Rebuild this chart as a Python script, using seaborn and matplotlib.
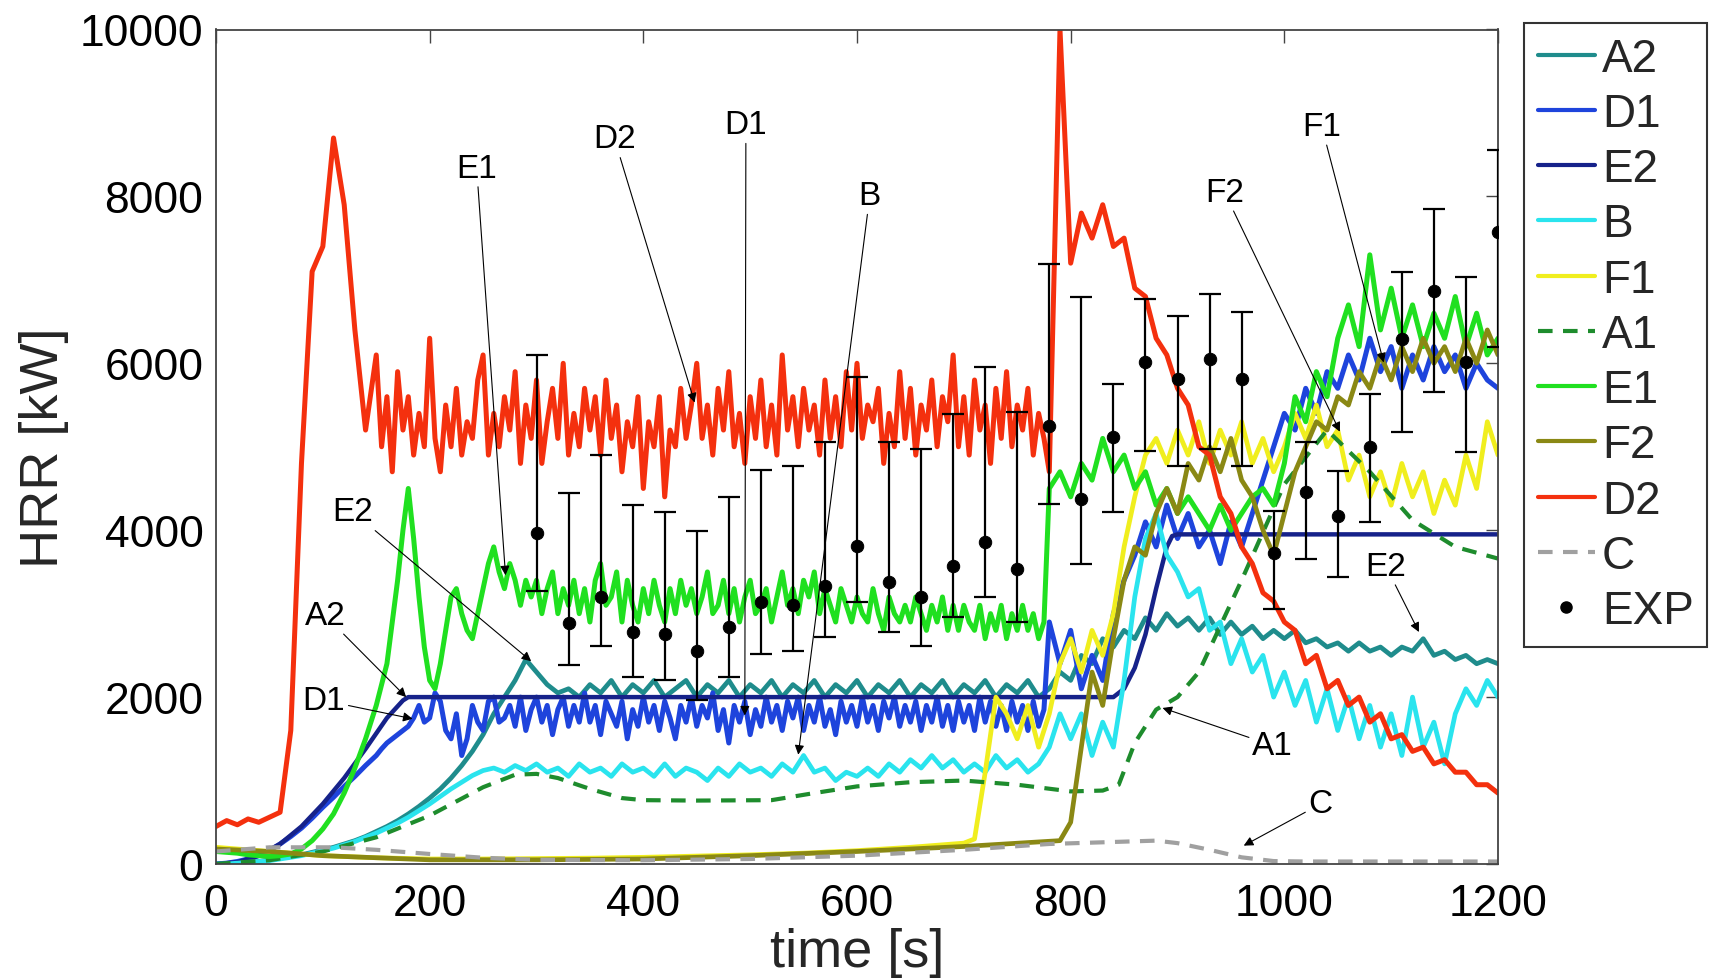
import matplotlib
matplotlib.use("Agg")
import matplotlib.pyplot as plt
import seaborn as sns
from matplotlib.lines import Line2D

# ---------------- data ----------------
T10 = list(range(0, 1201, 10))
# finer sampling on the noisy plateau of the dense series
TG = list(range(0, 141, 10)) + list(range(150, 781, 5)) + list(range(790, 1201, 10))

D2 = [450, 520, 470, 540, 500, 560, 620, 1600, 4800, 7100, 7400, 8700, 7900, 6400, 5200,
      6100, 5000, 5600, 4700, 5900, 5200, 5600, 4900, 5400, 5000,
      6300, 5100, 4700, 5500, 5000, 5700, 4900, 5300, 5100, 5800,
      6100, 4900, 5400, 5000, 5600, 5200, 5900, 4800, 5500, 5100,
      5800, 4800, 5300, 5700, 5100, 6000, 4900, 5400, 5000, 5700,
      5200, 5600, 4900, 5800, 5100, 5500, 4700, 5300, 5000, 5600,
      4500, 5300, 5000, 5600, 4400, 5200, 5000, 5700, 5100, 5500,
      6000, 5100, 5500, 4900, 5700, 5200, 5900, 5000, 5400, 4800,
      5600, 5100, 5800, 5000, 5500, 4900, 6100, 5200, 5600, 5000,
      5700, 5200, 5500, 4900, 5800, 5100, 5600, 5000, 5900, 5200,
      6000, 5100, 5500, 5300, 5700, 4800, 5400, 5000, 5900, 5100,
      5700, 4900, 5500, 5200, 5800, 5000, 5600, 5300, 6100, 5000,
      5600, 4900, 5800, 5200, 5500, 4800, 5700, 5100, 5900, 5000,
      5500, 5200, 5700, 4900, 5400, 5100, 4700,
      10000, 7200, 7800, 7500, 7900, 7400, 7500, 6900, 6800, 6300,
      6100, 5700, 5500, 5000, 4900, 4400, 4200, 3800, 3600, 3250,
      3150, 2900, 2800, 2400, 2500, 2100, 2200, 1900, 2000, 1700,
      1800, 1500, 1550, 1350, 1400, 1200, 1250, 1100, 1100, 950,
      950, 850]

E1 = [150, 140, 130, 110, 100, 90, 100, 120, 180, 280, 420, 600, 850, 1150, 1500,
      1900, 2150, 2400, 2900, 3400, 4000, 4500, 3900, 3200, 2600,
      2200, 2100, 2400, 2800, 3200, 3300, 3000, 2800, 2700, 3000,
      3300, 3600, 3800, 3500, 3300, 3600, 3400, 3100, 3400, 3200,
      3400, 3000, 3300, 3500, 3000, 3300, 3100, 3400, 3000, 3300,
      2900, 3400, 3600, 3100, 3200, 3500, 2900, 3400, 3100, 2900,
      3300, 3000, 3400, 3100, 2900, 3300, 3000, 3400, 3100, 3300,
      3000, 3200, 3500, 3000, 3100, 3400, 3000, 3300, 2900, 3200,
      3400, 3000, 3100, 3300, 2900, 3200, 3500, 3100, 3300, 3000,
      3400, 3200, 3500, 3000, 3300, 3100, 2900, 3300, 3100, 2900,
      3200, 3000, 2900, 3300, 3000, 2800, 3200, 3000, 2900, 3100,
      2900, 3200, 3000, 2800, 3100, 2900, 3200, 2800, 3100, 2800,
      3100, 2900, 2800, 3100, 2700, 3000, 2800, 3100, 2700, 3000,
      2800, 3100, 2800, 3000, 2700, 2900, 4500,
      4700, 4400, 4800, 4600, 5100, 4700, 4900, 4500, 4700, 4300,
      4500, 4200, 4400, 4200, 4000, 4300, 4000, 4200, 4400, 4500,
      4300, 4800, 5600, 5300, 5900, 5600, 6300, 6700, 6200, 7300,
      6400, 6900, 6300, 6700, 6200, 6600, 6300, 6800, 6200, 6600,
      6100, 6300]

D1 = [0, 10, 30, 60, 100, 160, 240, 330, 430, 550, 680, 800, 930, 1050, 1180,
      1300, 1380, 1450, 1500, 1550, 1600, 1650, 1750, 1900, 1700,
      1750, 2050, 1950, 1600, 1500, 1800, 1300, 1500, 1900, 1700,
      1600, 1950, 2000, 1700, 1750, 1900, 1650, 2000, 1600, 1850,
      2000, 1700, 1900, 1550, 1850, 2000, 1650, 1900, 1700, 2050,
      1700, 1900, 1550, 1950, 1800, 1650, 1950, 1500, 1850, 1650,
      2000, 1700, 1900, 1600, 1950, 1750, 1500, 1900, 1700, 2000,
      1650, 1900, 1750, 2050, 1600, 1850, 1450, 1900, 1700, 1950,
      1550, 1850, 1650, 2000, 1700, 1900, 1600, 1950, 1750, 2000,
      1600, 1900, 1700, 2000, 1650, 1850, 1550, 1950, 1700, 1900,
      1650, 2000, 1700, 1900, 1600, 1950, 1750, 2000, 1650, 1900,
      1700, 1950, 1600, 1900, 1700, 2000, 1650, 1900, 1600, 1950,
      1700, 1900, 1600, 2000, 1700, 1950, 1650, 1900, 1600, 1950,
      1700, 1900, 1600, 1950, 1650, 1850, 2900,
      2400, 2800, 2100, 2500, 2200, 3000, 3400, 3700, 4100, 3800,
      4300, 3900, 4200, 3800, 4000, 3600, 4100, 3800, 4200, 4600,
      5000, 5400, 5200, 5700, 5400, 5900, 5700, 6100, 5800, 6300,
      5900, 6200, 5700, 6100, 5800, 6200, 5900, 6100, 5700, 6000,
      5800, 5700]

A2 = [0, 0, 10, 20, 30, 50, 70,
      90, 110, 140, 170, 200, 240, 280, 330, 390, 450,
      520, 600, 690, 790, 900, 1030, 1180, 1350, 1550, 1800,
      2000, 2200, 2450, 2300, 2150, 2050, 2100, 2000, 2150, 2050,
      2200, 2000, 2150, 2050, 2200, 2000, 2100, 2200, 2000, 2150,
      2050, 2200, 2000, 2150, 2050, 2200, 2000, 2150, 2050, 2200,
      2000, 2150, 2050, 2200, 2000, 2150, 2050, 2200, 2000, 2150,
      2050, 2200, 2000, 2150, 2050, 2200, 2000, 2150, 2050, 2200,
      2000, 2100,
      2300, 2200, 2500, 2400, 2700, 2600, 2800, 2700, 2950, 2800,
      3000, 2850, 2950, 2800, 2950, 2750, 2900, 2750, 2850, 2700,
      2800, 2700, 2800, 2650, 2700, 2600, 2650, 2550, 2650, 2550,
      2600, 2500, 2600, 2550, 2700, 2500, 2550, 2450, 2500, 2400,
      2450, 2400]

B = [0, 0, 10, 20, 30, 40, 60,
     80, 100, 130, 160, 190, 230, 270, 320, 370, 430,
     490, 560, 640, 720, 810, 900, 980, 1060, 1120, 1150,
     1100, 1180, 1120, 1200, 1100, 1150, 1050, 1200, 1100, 1150,
     1050, 1200, 1100, 1150, 1050, 1200, 1050, 1150, 1100, 1000,
     1150, 1050, 1200, 1100, 1150, 1050, 1200, 1100, 1300, 1100,
     1150, 1000, 1100, 1050, 1150, 1050, 1200, 1100, 1250, 1150,
     1300, 1150, 1250, 1100, 1200, 1100, 1300, 1150, 1250, 1100,
     1200, 1400,
     1800, 1500, 1800, 1300, 1700, 1400, 2200, 3200, 3900, 4200,
     3700, 3500, 3200, 3300, 2800, 2900, 2400, 2700, 2300, 2500,
     2000, 2300, 1900, 2200, 1700, 2100, 1600, 2000, 1500, 1900,
     1400, 1800, 1300, 2000, 1400, 1700, 1200, 1800, 2100, 1900,
     2200, 2000]

F1_T = [0, 50, 100, 150, 200, 250, 300, 350, 400, 450, 500, 550, 600, 650, 700, 710] + list(range(720, 1201, 10))
F1 = [200, 150, 100, 75, 60, 60, 65, 70, 80, 95, 110, 130, 160, 200, 250, 300,
      1100, 2000, 1800, 1500, 1900, 1400, 1800, 2400, 2700, 2300,
      2800, 2500, 3000, 3800, 4400, 4900, 5100, 4800, 5200, 4900,
      5300, 4800, 5200, 4900, 5300, 4800, 5100, 4700, 5000, 5400,
      5100, 5500, 5000, 5200, 4600, 4900, 4400, 4700, 4300, 4800,
      4400, 4700, 4200, 4600, 4300, 4900, 4500, 5300, 4900]

F2_T = [0, 50, 100, 150, 200, 300, 400, 500, 600, 700, 790] + list(range(800, 1201, 10))
F2 = [180, 150, 100, 75, 50, 50, 60, 100, 150, 210, 280,
      500, 1400, 2300, 1900, 2700, 3400, 3800, 3700, 4200, 4500,
      4200, 4800, 4600, 5000, 4700, 5100, 4600, 4400, 4000, 3700,
      4200, 4700, 5000, 5300, 5200, 5600, 5500, 5900, 5700, 6100,
      5800, 6200, 5900, 6300, 6000, 6200, 5900, 6300, 6000, 6400,
      6100]

E2_T = [0, 20, 40, 60, 80, 100, 120, 140, 160, 175, 180, 840, 850, 860, 870, 880, 890, 895, 900, 1200]
E2 = [0, 20, 100, 240, 450, 720, 1030, 1380, 1750, 1960, 2000, 2000, 2100, 2350, 2750, 3300, 3800, 3930, 3950, 3950]

A1_T = [0, 50, 100, 150, 200, 250, 280, 300, 320, 350, 380, 400, 450, 520, 560, 600, 650, 700,
        750, 800, 830, 845, 860, 880, 900, 920, 960, 1000, 1040, 1080, 1120, 1160, 1200]
A1 = [0, 45, 150, 320, 580, 920, 1070, 1080, 1030, 900, 790, 765, 760, 765, 850, 930, 980, 1000,
      950, 870, 880, 950, 1450, 1850, 2000, 2300, 3400, 4550, 5200, 4700, 4120, 3800, 3660]

C_T = [0, 50, 110, 150, 200, 250, 300, 400, 500, 600, 700, 780, 880, 900, 930, 960, 990, 1020, 1200]
C = [150, 200, 200, 170, 120, 75, 50, 45, 60, 100, 170, 240, 280, 250, 170, 80, 35, 30, 30]

EXP_T = list(range(300, 1201, 30))
EXP_V = [3970, 2890, 3200, 2780, 2760, 2550, 2840, 3140, 3100, 3330,
         3815, 3380, 3200, 3570, 3855, 3535, 5250, 4375, 5115, 6015,
         5810, 6050, 5810, 3730, 4460, 4170, 5000, 6290, 6865, 6015, 7570]
EXP_LO = [3270, 2390, 2610, 2240, 2200, 1960, 2240, 2520, 2550, 2720,
          3140, 2780, 2610, 2960, 3200, 2900, 4315, 3595, 4220, 4950,
          4770, 4970, 4770, 3055, 3655, 3440, 4100, 5180, 5655, 4935, 6200]
EXP_HI = [6100, 4440, 4900, 4300, 4220, 3990, 4400, 4720, 4770, 5060,
          5835, 5055, 4975, 5395, 5955, 5415, 7190, 6795, 5750, 6770,
          6565, 6830, 6615, 4230, 5055, 4710, 5630, 7095, 7850, 7035, 8560]

X_TICKS = [0, 200, 400, 600, 800, 1000, 1200]
Y_TICKS = [0, 2000, 4000, 6000, 8000, 10000]

# annotation labels: (text, text position (t, kW), arrow target (t, kW))
NOTES = [("E1", (244, 8340), (271, 3460)),
         ("D2", (373, 8690), (448, 5530)),
         ("D1", (496, 8860), (495, 1780)),
         ("B", (612, 8010), (545, 1310)),
         ("E2", (128, 4220), (295, 2430)),
         ("A2", (102, 2980), (178, 2000)),
         ("D1", (101, 1960), (184, 1740)),
         ("F2", (944, 8050), (1052, 5180)),
         ("F1", (1035, 8840), (1093, 6010)),
         ("E2", (1095, 3570), (1126, 2780)),
         ("A1", (989, 1420), (886, 1870)),
         ("C", (1034, 720), (962, 220))]

# ---------------- styling ----------------
sns.set_theme(style="white")
plt.rcParams['font.family'] = ['Liberation Sans', 'DejaVu Sans']

SERIES = [
    ("A2", T10, A2, "#1f8c8c", "-", 3.4),
    ("D1", TG, D1, "#1e44dc", "-", 3.6),
    ("E2", E2_T, E2, "#16228a", "-", 3.2),
    ("B", T10, B, "#2ae4ee", "-", 3.4),
    ("F1", F1_T, F1, "#f0ee1e", "-", 3.4),
    ("A1", A1_T, A1, "#1e8c2d", (0, (3.5, 2.5)), 3.0),
    ("E1", TG, E1, "#20e020", "-", 3.6),
    ("F2", F2_T, F2, "#8a8814", "-", 3.4),
    ("D2", TG, D2, "#f4300e", "-", 3.6),
    ("C", C_T, C, "#a0a0a0", (0, (3.5, 2.5)), 3.0),
]

fig = plt.figure(figsize=(17.11, 9.79), dpi=100)
ax = fig.add_axes([216 / 1711, 1 - 865 / 979, (1498 - 216) / 1711, (865 - 30.5) / 979])
ax.set_facecolor("white")

handles = []
for name, t, v, col, ls, lw in SERIES:
    sns.lineplot(x=t, y=v, ax=ax, color=col, linestyle=ls, linewidth=lw,
                 estimator=None, sort=False, legend=False)
    handles.append(Line2D([0], [0], color=col, linestyle=ls, linewidth=3))

yerr = [[v - lo for v, lo in zip(EXP_V, EXP_LO)], [hi - v for v, hi in zip(EXP_V, EXP_HI)]]
ax.errorbar(EXP_T, EXP_V, yerr=yerr, fmt="none", ecolor="black", elinewidth=1.6,
            capsize=8, capthick=1.6, zorder=5)
sns.scatterplot(x=EXP_T, y=EXP_V, ax=ax, color="black", s=80, edgecolor="black",
                zorder=6, legend=False)
handles.append(Line2D([0], [0], color="black", marker="o", linestyle="none", markersize=8))

for label, (tx, tv), (hx, hv) in NOTES:
    ax.annotate(label, xy=(hx, hv), xytext=(tx, tv), ha="center", va="center",
                fontsize=24, color="black", zorder=7,
                arrowprops=dict(arrowstyle="-|>", color="black", lw=0.8,
                                mutation_scale=14, shrinkA=0, shrinkB=0))

ax.set_xlim(0, 1200)
ax.set_ylim(0, 10000)
ax.set_xticks(X_TICKS)
ax.set_yticks(Y_TICKS)
ax.tick_params(axis="both", direction="in", length=9, width=1, color="#444444",
               top=True, right=True, labelsize=32, labelcolor="black")
ax.tick_params(axis="x", pad=14)
ax.tick_params(axis="y", pad=9)
for s in ax.spines.values():
    s.set_color("#444444")
    s.set_linewidth(1.3)
    s.set_visible(True)

ax.set_xlabel("time [s]", fontsize=39, labelpad=2)
ax.set_ylabel("HRR [kW]", fontsize=39, labelpad=8)

labels = [s[0] for s in SERIES] + ["EXP"]
leg = fig.legend(handles, labels, loc="upper left",
                 bbox_to_anchor=(1524 / 1711, 1 - 24 / 979), frameon=True,
                 fontsize=33, handlelength=1.25, handletextpad=0.15,
                 labelspacing=0.245, borderpad=0.3, borderaxespad=0,
                 fancybox=False, edgecolor="#333333", framealpha=1)
leg.get_frame().set_linewidth(1.5)

fig.savefig("out.png", dpi=100, facecolor="white")
